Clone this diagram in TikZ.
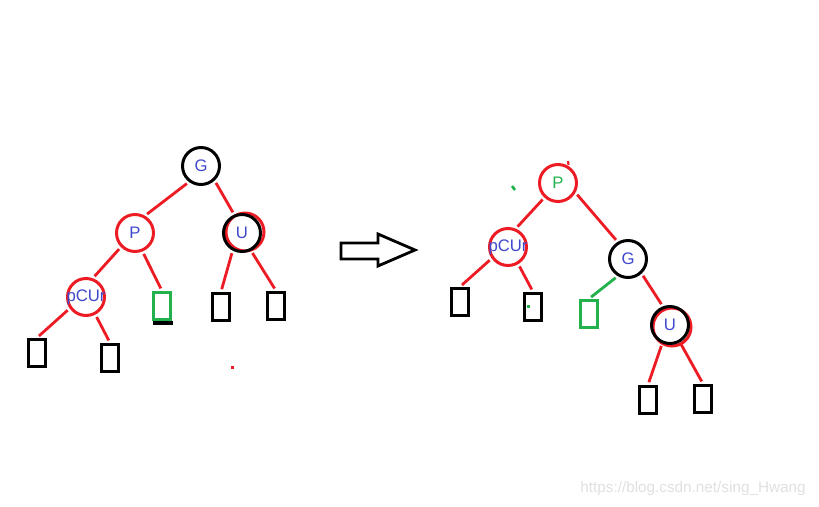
\documentclass[tikz,border=0pt]{standalone}
\usepackage{fontspec}
\setmainfont{Liberation Sans}
\definecolor{pred}{HTML}{ED1C24}
\definecolor{pgreen}{HTML}{22B14C}
\definecolor{pblue}{HTML}{3F48CC}
\definecolor{wmark}{HTML}{E0E0E0}
\begin{document}
\begin{tikzpicture}[x=0.02cm, y=-0.02cm, line width=1.7pt,
    rbnode/.style={circle, draw=pred, minimum size=0.74cm, inner sep=0pt,
      label={[text=pblue, font=\fontsize{9.5}{11}\selectfont]center:#1}},
    bknode/.style={rbnode=#1, draw=black},
    leafbox/.style={rectangle, draw=black, line width=2pt,
      minimum width=0.34cm, minimum height=0.54cm, inner sep=0pt},
    edge/.style={pred, line width=1.6pt, shorten <=1.5pt, shorten >=1.5pt}]
    \useasboundingbox (0,0) rectangle (819,507);
    % left tree
    \node [bknode=G] (gL) at (201,166) {};
    \node [rbnode=P] (pL) at (135,233) {};
    \draw [pred] (245,232) circle (19);
    \node [bknode=U] (uL) at (242,233) {};
    \node [rbnode=pCUr] (cL) at (86,297) {};
    \node [leafbox] (bL1) at (37,353) {};
    \node [leafbox] (bL2) at (110,358) {};
    \draw [black, line width=2pt] (153,323) -- (173,323);
    \node [leafbox, draw=pgreen] (bL3) at (162,306) {};
    \node [leafbox] (bL4) at (221,307) {};
    \node [leafbox] (bL5) at (276,306) {};
    \draw [edge] (gL.-127) -- (pL.60);
    \draw [edge] (gL.-47) -- (uL.113);
    \draw [edge] (pL.-135) -- (cL.70);
    \draw [edge] (pL.-68) -- (bL3.north);
    \draw [edge] (uL.-118) -- (bL4.north);
    \draw [edge] (uL.-63) -- (bL5.north);
    \draw [edge] (cL.-145) -- (bL1.north);
    \draw [edge] (cL.-62) -- (bL2.north);
    \fill [pred] (230.5,365.5) rectangle (233.5,368.5);
    % arrow
    \draw [fill=white, line width=1.6pt] (341,243) -- (378,243) -- (378,234)
      -- (415,250) -- (378,266) -- (378,259) -- (341,259) -- cycle;
    % right tree
    \node [circle, draw=pred, minimum size=0.74cm, inner sep=0pt,
      label={[text=pgreen, font=\fontsize{9.5}{11}\selectfont]center:P}] (pR) at (558,183) {};
    \node [rbnode=pCUr] (cR) at (508,247) {};
    \node [bknode=G] (gR) at (628,259) {};
    \draw [pred] (672,327) circle (19);
    \node [bknode=U] (uR) at (670,325) {};
    \node [leafbox] (bR1) at (460,302) {};
    \node [leafbox] (bR2) at (533,307) {};
    \node [leafbox, draw=pgreen] (bR3) at (589,314) {};
    \node [leafbox] (bR4) at (648,400) {};
    \node [leafbox] (bR5) at (703,399) {};
    \draw [edge] (pR.-133) -- (cR.67);
    \draw [edge] (pR.-29) -- (gR.121);
    \draw [edge] (cR.-145) -- (bR1.north);
    \draw [edge] (cR.-59) -- (bR2.north);
    \draw [edge, pgreen] (gR.-121) -- (bR3.north);
    \draw [edge] (gR.-47) -- (uR.111);
    \draw [edge] (uR.-113) -- (bR4.north);
    \draw [edge] (uR.-60) -- (bR5.north);
    \fill [pgreen] (526.5,304.5) rectangle (529.5,307.5);
    \draw [pgreen, line width=1.5pt] (512,186) -- (515,190);
    \draw [pred, line width=1.2pt] (568,161) -- (568.5,165);
    % watermark
    \node [text=wmark, font=\fontsize{8.7}{10}\selectfont] (mark) at (693,489)
      {https://blog.csdn.net/sing\_Hwang};
\end{tikzpicture}
\end{document}
